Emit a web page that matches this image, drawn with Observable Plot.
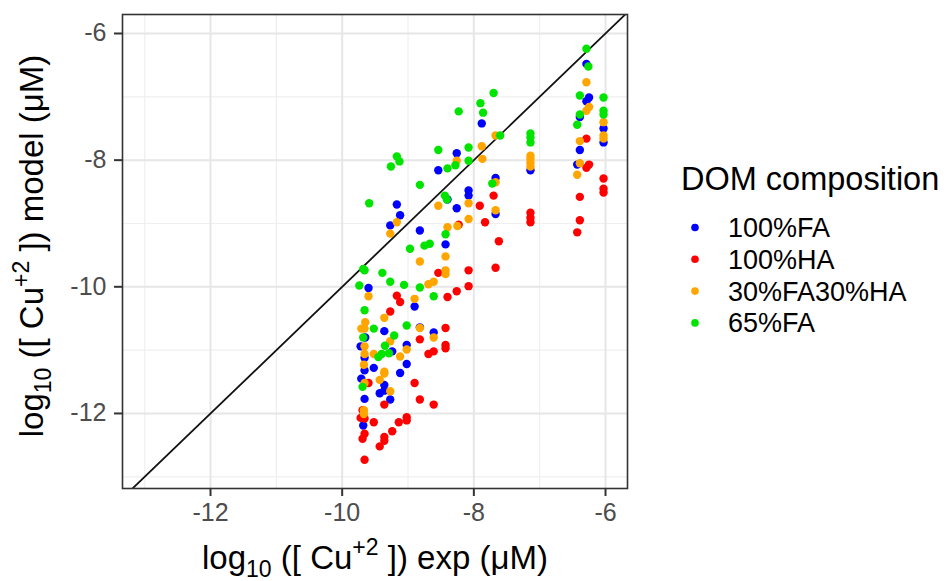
<!DOCTYPE html>
<html>
<head>
<meta charset="utf-8">
<script src="https://cdn.jsdelivr.net/npm/d3@7"></script>
<script src="https://cdn.jsdelivr.net/npm/@observablehq/plot@0.6"></script>
<style>
  body { margin: 0; background: #fff; }
  #chart { position: relative; width: 949px; height: 581px; }
  svg { font-family: "Liberation Sans", Arial, Helvetica, sans-serif; }
</style>
</head>
<body>
<div id="chart"></div>
<script>
// ---- Data (log10 concentrations: [exp, model]) ----
const categories = ["100%FA", "100%HA", "30%FA30%HA", "65%FA"];
const colors = ["#0000ff", "#ff0000", "#ffa500", "#00e400"];

const FA = [
  [-6.29,-6.48],[-6.25,-7.01],[-6.29,-7.07],[-6.39,-7.32],[-6.03,-7.50],[-6.03,-7.72],
  [-6.39,-7.84],[-6.43,-8.07],[-7.14,-8.16],[-7.88,-7.42],[-8.26,-7.89],[-8.54,-8.16],
  [-7.67,-8.28],[-8.08,-8.48],[-8.08,-8.56],[-8.40,-8.62],[-9.17,-8.70],[-9.12,-8.87],
  [-9.27,-9.03],[-8.82,-9.11],[-8.26,-8.76],[-7.67,-8.85],[-8.43,-9.33],[-9.60,-10.02],
  [-8.90,-10.31],[-9.36,-10.70],[-8.82,-10.64],[-8.61,-10.72],[-9.65,-10.80],[-9.72,-10.94],
  [-9.02,-10.92],[-9.24,-11.02],[-9.66,-11.12],[-9.02,-11.22],[-9.52,-11.28],[-9.66,-11.32],
  [-9.12,-11.36],[-9.71,-11.45],[-9.36,-11.55],[-9.43,-11.68],[-9.36,-11.64],[-9.27,-11.78],
  [-9.66,-11.77],[-9.68,-12.19]
];
const HA = [
  [-6.29,-7.66],[-6.25,-8.07],[-6.29,-8.12],[-6.03,-8.29],[-6.03,-8.45],[-6.03,-8.51],
  [-6.39,-8.58],[-6.39,-8.95],[-6.43,-9.14],[-7.14,-8.83],[-7.14,-8.91],[-7.14,-8.98],
  [-7.91,-8.72],[-7.70,-8.56],[-7.83,-8.98],[-8.23,-9.02],[-7.62,-9.28],[-8.54,-9.78],
  [-8.08,-9.74],[-7.67,-9.70],[-8.08,-9.99],[-8.26,-10.07],[-8.40,-10.16],[-9.17,-10.14],
  [-9.12,-10.24],[-9.27,-10.39],[-8.43,-10.65],[-8.82,-10.83],[-8.43,-10.92],[-8.43,-10.97],
  [-8.61,-11.02],[-8.69,-11.06],[-8.90,-11.52],[-9.60,-11.52],[-8.82,-11.78],[-9.36,-11.86],
  [-8.61,-11.86],[-9.69,-11.95],[-9.72,-12.07],[-9.66,-12.08],[-9.52,-12.14],[-9.02,-12.06],
  [-9.02,-12.11],[-9.14,-12.14],[-9.24,-12.28],[-9.66,-12.32],[-9.69,-12.40],[-9.36,-12.37],
  [-9.36,-12.43],[-9.43,-12.52],[-9.66,-12.73]
];
const FA30HA30 = [
  [-6.29,-6.77],[-6.25,-7.16],[-6.29,-7.22],[-6.03,-7.40],[-6.03,-7.61],[-6.03,-7.66],
  [-6.39,-7.70],[-6.39,-8.05],[-6.43,-8.23],[-7.14,-7.93],[-7.14,-7.98],[-7.14,-8.04],
  [-7.14,-8.10],[-7.67,-7.61],[-7.88,-7.78],[-8.26,-8.01],[-7.87,-7.98],[-7.67,-8.35],
  [-8.08,-8.68],[-8.54,-8.72],[-7.67,-8.79],[-9.17,-8.98],[-8.08,-8.93],[-8.25,-9.04],
  [-8.40,-9.06],[-9.27,-9.16],[-8.43,-9.52],[-8.82,-9.60],[-8.43,-9.74],[-8.43,-9.80],
  [-8.69,-9.96],[-8.61,-9.92],[-9.60,-10.15],[-8.90,-10.19],[-9.36,-10.49],[-9.65,-10.56],
  [-9.71,-10.66],[-9.66,-10.66],[-8.82,-10.65],[-8.61,-10.80],[-9.27,-10.86],[-9.66,-10.94],
  [-9.02,-10.99],[-9.52,-11.06],[-9.66,-11.06],[-9.12,-11.10],[-9.67,-11.23],[-9.36,-11.34],
  [-9.36,-11.37],[-9.43,-11.47],[-9.66,-11.52],[-9.27,-11.65],[-9.67,-11.95],[-9.67,-12.01]
];
const FA65 = [
  [-6.29,-6.24],[-6.26,-6.52],[-6.39,-6.98],[-6.03,-7.01],[-6.03,-7.22],[-6.03,-7.28],
  [-6.39,-7.28],[-6.43,-7.44],[-7.14,-7.58],[-7.14,-7.64],[-7.14,-7.72],[-7.70,-6.94],
  [-7.90,-7.10],[-8.23,-7.23],[-7.86,-7.25],[-7.60,-7.61],[-8.08,-7.80],[-8.54,-7.84],
  [-9.17,-7.94],[-9.13,-8.02],[-9.26,-8.10],[-8.40,-8.13],[-8.28,-8.08],[-8.08,-8.01],
  [-8.82,-8.39],[-7.72,-8.37],[-9.59,-8.68],[-8.44,-8.56],[-8.41,-8.62],[-8.43,-9.17],
  [-8.97,-9.40],[-8.75,-9.35],[-8.67,-9.32],[-9.68,-9.72],[-9.66,-9.74],[-9.39,-9.78],
  [-9.27,-9.92],[-9.06,-9.97],[-9.74,-9.98],[-8.82,-10.01],[-8.61,-10.15],[-9.66,-10.37],
  [-9.52,-10.66],[-9.02,-10.61],[-9.21,-10.77],[-9.68,-10.80],[-9.35,-10.93],[-9.40,-11.06],
  [-9.29,-11.05],[-9.45,-11.11],[-9.69,-11.58]
];
const majorTicks = [-12, -10, -8, -6];
const minorTicks = [-13, -11, -9, -7];
const xDomain = [-13.337, -5.666];
const yDomain = [-13.185, -5.70];

// ---- Build table ----
const seriesList = [FA, HA, FA30HA30, FA65];
const rows = seriesList.flatMap((s, i) => s.map(([e, m]) => ({exp: e, model: m, comp: categories[i]})));

const fontFamily = '"Liberation Sans", Arial, Helvetica, sans-serif';
const plot = Plot.plot({
  width: 949,
  height: 581,
  marginLeft: 122,
  marginRight: 322,
  marginTop: 14,
  marginBottom: 93,
  style: {fontFamily, background: "#fff"},
  x: {domain: xDomain, ticks: majorTicks, tickFormat: d => String(d), label: null},
  y: {domain: yDomain, ticks: majorTicks, tickFormat: d => String(d), label: null},
  color: {domain: categories, range: colors},
  marks: [
    Plot.ruleX(minorTicks, {stroke: "#efefef", strokeWidth: 1.2}),
    Plot.ruleY(minorTicks, {stroke: "#efefef", strokeWidth: 1.2}),
    Plot.ruleX(majorTicks, {stroke: "#e6e6e6", strokeWidth: 2}),
    Plot.ruleY(majorTicks, {stroke: "#e6e6e6", strokeWidth: 2}),
    Plot.link([0], {x1: xDomain[0], y1: xDomain[0], x2: xDomain[1], y2: xDomain[1], stroke: "#111", strokeWidth: 1.8, clip: true}),
    Plot.dot(rows, {x: "exp", y: "model", fill: "comp", r: 4.2}),
    Plot.frame({stroke: "#333", strokeWidth: 1.6}),
    Plot.axisX(majorTicks, {tickSize: 8, tickPadding: 7, stroke: "#333", strokeWidth: 2, fill: "#4d4d4d", fontSize: 25, tickFormat: d => String(d)}),
    Plot.axisY(majorTicks, {tickSize: 8, tickPadding: 8, stroke: "#333", strokeWidth: 2, fill: "#4d4d4d", fontSize: 25, tickFormat: d => String(d)})
  ]
});
document.getElementById("chart").appendChild(plot);

// ---- Axis titles with sub/superscripts ----
const svg = d3.select(plot);
function richTitle(sel, tail) {
  sel.append("tspan").text("log");
  sel.append("tspan").attr("font-size", 23).attr("dy", 8).text("10");
  sel.append("tspan").attr("dy", -8).text(" ([ Cu");
  sel.append("tspan").attr("font-size", 23).attr("dy", -14).text("+2");
  sel.append("tspan").attr("dy", 14).text(" ]) " + tail);
}
const xt = svg.append("text")
  .attr("x", 375).attr("y", 569)
  .attr("text-anchor", "middle").attr("font-size", 33).attr("fill", "#000")
  .attr("font-family", fontFamily);
richTitle(xt, "exp (μM)");
const yt = svg.append("text")
  .attr("transform", "translate(43,246) rotate(-90)")
  .attr("text-anchor", "middle").attr("font-size", 33).attr("fill", "#000")
  .attr("font-family", fontFamily);
richTitle(yt, "model (μM)");

// ---- Legend ----
const lg = svg.append("g").attr("font-family", fontFamily).attr("text-anchor", "start");
lg.append("text").attr("x", 681).attr("y", 190).attr("font-size", 32.5).attr("fill", "#000").text("DOM composition");
categories.forEach((c, i) => {
  const yb = 237 + i * 31.8;
  lg.append("circle").attr("cx", 695).attr("cy", yb - 9.5).attr("r", 3.8).attr("fill", colors[i]);
  lg.append("text").attr("x", 728).attr("y", yb).attr("font-size", 27).attr("fill", "#000").text(c);
});
</script>
</body>
</html>
